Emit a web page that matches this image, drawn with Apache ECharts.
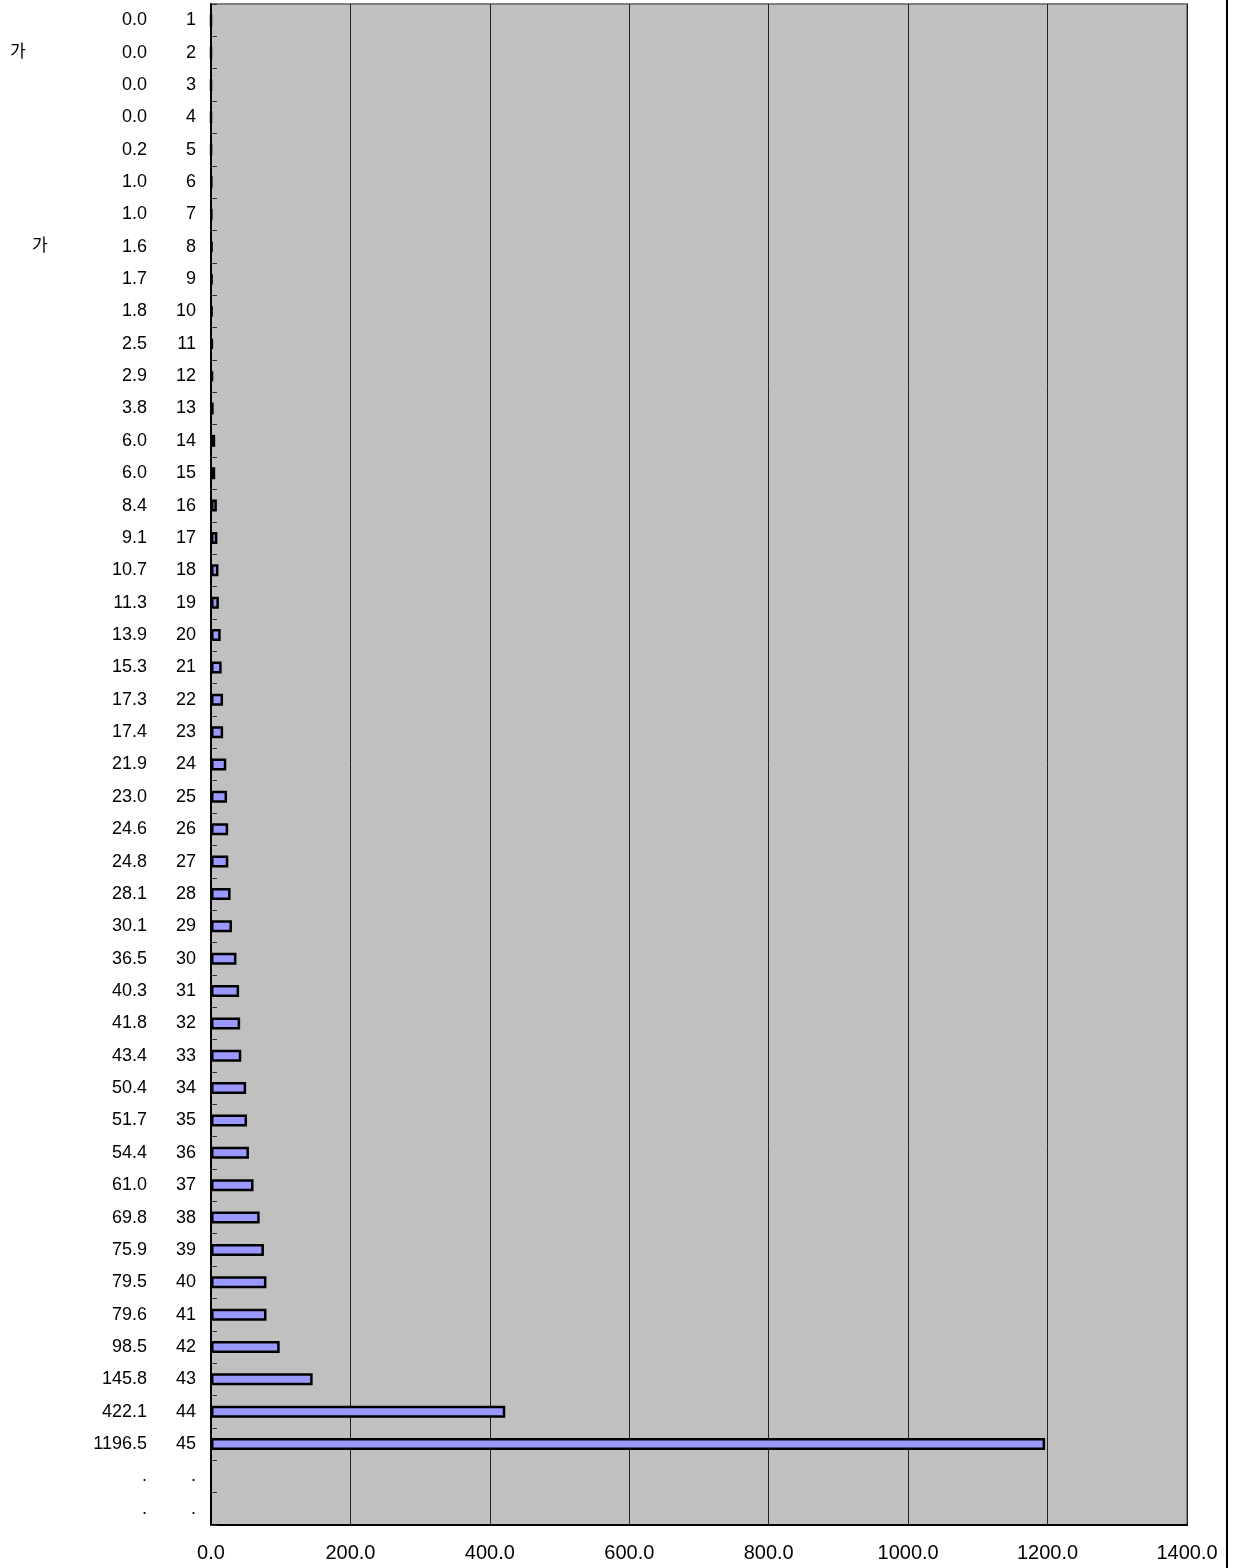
<!DOCTYPE html>
<html>
<head>
<meta charset="utf-8">
<script src="https://cdn.jsdelivr.net/npm/echarts@6/dist/echarts.min.js"></script>
<style>
html,body{margin:0;padding:0;background:#fff;}
#chart{width:1234px;height:1568px;}
</style>
</head>
<body>
<div id="chart"></div>
<script>
const categories = ['1','2','3','4','5','6','7','8','9','10','11','12','13','14','15','16','17','18','19','20','21','22','23','24','25','26','27','28','29','30','31','32','33','34','35','36','37','38','39','40','41','42','43','44','45','.','.'];
const values = [0.0,0.0,0.0,0.0,0.2,1.0,1.0,1.6,1.7,1.8,2.5,2.9,3.8,6.0,6.0,8.4,9.1,10.7,11.3,13.9,15.3,17.3,17.4,21.9,23.0,24.6,24.8,28.1,30.1,36.5,40.3,41.8,43.4,50.4,51.7,54.4,61.0,69.8,75.9,79.5,79.6,98.5,145.8,422.1,1196.5,null,null];
const markRows = ['2','8'];
const markText = '가';
const xTicks = [0,200,400,600,800,1000,1200,1400];

const chart = echarts.init(document.getElementById('chart'), null, {renderer:'canvas'});
const lblFont = '"Liberation Sans", Arial, "Noto Sans CJK KR", sans-serif';
const option = {
  animation: false,
  backgroundColor: '#ffffff',
  grid: {
    left: 211, right: 47, top: 4, bottom: 43,
    show: true, backgroundColor: '#C0C0C0', borderColor: '#808080', borderWidth: 2
  },
  xAxis: {
    type: 'value',
    min: xTicks[0], max: xTicks[xTicks.length-1], interval: 200,
    axisLine: {show: true, lineStyle: {color: '#000', width: 2}},
    axisTick: {show: false},
    splitLine: {show: true, lineStyle: {color: '#222', width: 1}},
    axisLabel: {
      margin: 18, fontSize: 20, color: '#000', fontFamily: lblFont,
      formatter: v => v.toFixed(1)
    }
  },
  yAxis: {
    type: 'category',
    inverse: true,
    data: categories,
    axisLine: {show: true, lineStyle: {color: '#000', width: 2}},
    axisTick: {show: true, inside: true, length: 6, lineStyle: {color: '#333', width: 1}},
    splitLine: {show: false},
    axisLabel: {
      interval: 0, margin: 15, color: '#000', fontFamily: lblFont, fontSize: 18,
      formatter: function (c, i) {
        const v = values[i];
        const vs = v == null ? '.' : v.toFixed(1);
        let pre = '';
        if (c === markRows[0] && i < 45) pre = '{k2|' + markText + '}';
        else if (c === markRows[1] && i < 45) pre = '{k8|' + markText + '}';
        return pre + '{v|' + vs + '}{n|' + c + '}';
      },
      rich: {
        v: {width: 70, align: 'right', fontSize: 18, fontFamily: lblFont, color: '#000'},
        n: {width: 49, align: 'right', fontSize: 18, fontFamily: lblFont, color: '#000'},
        k2: {width: 67, align: 'left', fontSize: 17, fontFamily: lblFont, color: '#000'},
        k8: {width: 45, align: 'left', fontSize: 17, fontFamily: lblFont, color: '#000'}
      }
    }
  },
  series: [{
    type: 'bar',
    data: values,
    barWidth: 12,
    itemStyle: {color: '#9999FF', borderColor: '#000', borderWidth: 2.5}
  }],
  graphic: [{
    type: 'line',
    shape: {x1: 1227, y1: 0, x2: 1227, y2: 1568},
    style: {stroke: '#000', lineWidth: 2}
  }]
};
chart.setOption(option);
</script>
</body>
</html>
